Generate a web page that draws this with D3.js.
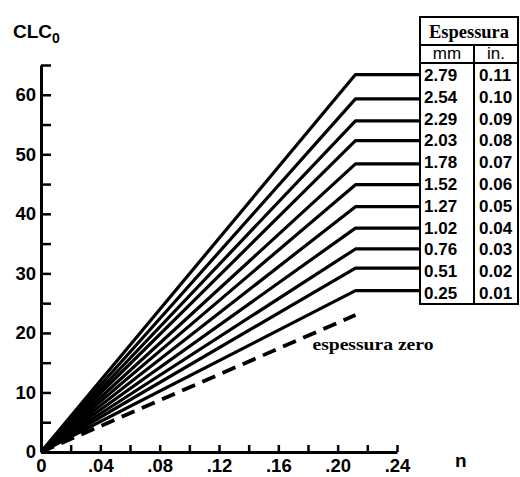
<!DOCTYPE html>
<html>
<head>
<meta charset="utf-8">
<script src="https://cdn.jsdelivr.net/npm/d3@7"></script>
<style>
  body { margin: 0; background: #fff; }
  svg { display: block; }
  text { fill: #000; }
</style>
</head>
<body>
<div id="chart"></div>
<script>
// thickness labels (table rows, top to bottom)
const thickMm = ["2.79", "2.54", "2.29", "2.03", "1.78", "1.52", "1.27", "1.02", "0.76", "0.51", "0.25"];
const thickIn = ["0.11", "0.10", "0.09", "0.08", "0.07", "0.06", "0.05", "0.04", "0.03", "0.02", "0.01"];
// CLC0 level reached by each curve (same order)
const clcLevels = [63.4, 59.3, 55.6, 52.3, 48.4, 44.9, 41.2, 37.6, 34.1, 30.9, 27.1];
// zero thickness curve
const zeroLevel = 23.0;
// n where curves turn flat
const nBreak = 0.212;

const yTicks = d3.range(0, 66, 5);
const xTicks = d3.range(0, 0.241, 0.02);

const W = 520, H = 477;
const sans = "'Liberation Sans', Arial, sans-serif";
const serif = "'Liberation Serif', 'Times New Roman', serif";

const svg = d3.select("#chart").append("svg")
  .attr("width", W).attr("height", H);

const x = d3.scaleLinear().domain([0, 0.24]).range([41, 397]);
const y = d3.scaleLinear().domain([0, 65]).range([452, 65]);

// table geometry
const tab = { left: 420, mid: 474, right: 518, top: 17, head1: 45, head2: 63, row0: 75, rowStep: 21.8, bottom: 304 };

// axes
const yAxis = d3.axisLeft(y)
  .tickValues(yTicks)
  .tickSizeInner(-10).tickSizeOuter(0).tickPadding(5)
  .tickFormat((d) => d % 10 === 0 ? d : "");
const gy = svg.append("g").attr("transform", `translate(${x(0)},0)`).call(yAxis);

const fmtX = (d) => d === 0 ? "0" : d3.format(".2f")(d).replace(/^0/, "");
const xAxis = d3.axisBottom(x)
  .tickValues(xTicks)
  .tickSizeInner(-7).tickSizeOuter(0).tickPadding(7)
  .tickFormat((d) => Math.round(d * 100) % 4 === 0 ? fmtX(d) : "");
const gx = svg.append("g").attr("transform", `translate(0,${y(0)})`).call(xAxis);

[gx, gy].forEach((g) => {
  g.select(".domain").attr("stroke", "#000").attr("stroke-width", 3);
  g.selectAll(".tick line").attr("stroke", "#000").attr("stroke-width", 2.5);
  g.selectAll(".tick text")
    .attr("font-family", sans).attr("font-size", 18.5).attr("font-weight", "bold").attr("fill", "#000");
});

// curves
const line = d3.line().x((d) => d[0]).y((d) => d[1]);
svg.append("g").selectAll("path")
  .data(clcLevels)
  .join("path")
  .attr("d", (v) => line([[x(0), y(0)], [x(nBreak), y(v)], [tab.left, y(v)]]))
  .attr("fill", "none")
  .attr("stroke", "#000")
  .attr("stroke-width", 3.2)
  .attr("stroke-linejoin", "round");

svg.append("path")
  .attr("d", line([[x(0), y(0)], [x(nBreak), y(zeroLevel)]]))
  .attr("fill", "none")
  .attr("stroke", "#000")
  .attr("stroke-width", 3.8)
  .attr("stroke-dasharray", "14,8");

svg.append("text")
  .attr("x", x(0.183)).attr("y", y(17.1))
  .attr("font-family", serif).attr("font-weight", "bold").attr("font-size", 16)
  .attr("textLength", 121).attr("lengthAdjust", "spacingAndGlyphs")
  .text("espessura zero");

// axis titles
const yTitle = svg.append("text")
  .attr("x", 13).attr("y", 38)
  .attr("font-family", sans).attr("font-weight", "bold").attr("font-size", 19);
yTitle.append("tspan").text("CLC");
yTitle.append("tspan").attr("font-size", 14).attr("dy", 5).text("0");

svg.append("text")
  .attr("x", 455).attr("y", 467)
  .attr("font-family", sans).attr("font-weight", "bold").attr("font-size", 19)
  .text("n");

// table
const tg = svg.append("g");
tg.append("rect")
  .attr("x", tab.left).attr("y", tab.top)
  .attr("width", tab.right - tab.left).attr("height", tab.bottom - tab.top)
  .attr("fill", "#fff").attr("stroke", "#000").attr("stroke-width", 2);
tg.append("line").attr("x1", tab.left).attr("x2", tab.right).attr("y1", tab.head1).attr("y2", tab.head1)
  .attr("stroke", "#000").attr("stroke-width", 2);
tg.append("line").attr("x1", tab.left).attr("x2", tab.right).attr("y1", tab.head2).attr("y2", tab.head2)
  .attr("stroke", "#000").attr("stroke-width", 2);
tg.append("line").attr("x1", tab.mid).attr("x2", tab.mid).attr("y1", tab.head1).attr("y2", tab.bottom)
  .attr("stroke", "#000").attr("stroke-width", 2);

tg.append("text")
  .attr("x", (tab.left + tab.right) / 2).attr("y", 38)
  .attr("text-anchor", "middle")
  .attr("font-family", serif).attr("font-size", 19).attr("font-weight", 600)
  .attr("textLength", 80).attr("lengthAdjust", "spacingAndGlyphs")
  .text("Espessura");
tg.append("text")
  .attr("x", (tab.left + tab.mid) / 2).attr("y", 59)
  .attr("text-anchor", "middle")
  .attr("font-family", sans).attr("font-size", 17)
  .text("mm");
tg.append("text")
  .attr("x", (tab.mid + tab.right) / 2).attr("y", 59)
  .attr("text-anchor", "middle")
  .attr("font-family", sans).attr("font-size", 17)
  .text("in.");

const rowY = (i) => tab.row0 + i * tab.rowStep;
tg.append("g").selectAll("text")
  .data(thickMm)
  .join("text")
  .attr("x", tab.left + 4).attr("y", (d, i) => rowY(i) + 6)
  .attr("font-family", sans).attr("font-weight", "bold").attr("font-size", 17)
  .text((d) => d);
tg.append("g").selectAll("text")
  .data(thickIn)
  .join("text")
  .attr("x", tab.mid + 5).attr("y", (d, i) => rowY(i) + 6)
  .attr("font-family", sans).attr("font-weight", "bold").attr("font-size", 17)
  .text((d) => d);
</script>
</body>
</html>
